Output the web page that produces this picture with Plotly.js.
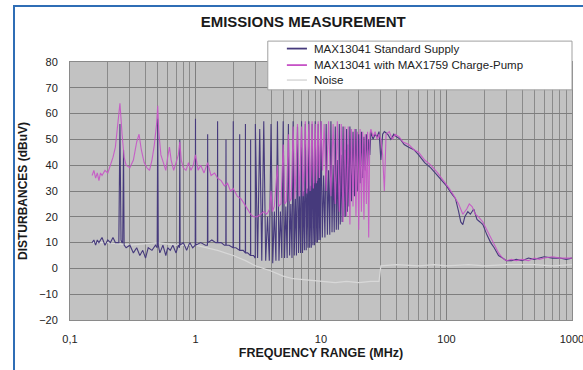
<!DOCTYPE html>
<html>
<head>
<meta charset="utf-8">
<script src="https://cdn.plot.ly/plotly-3.0.1.min.js"></script>
<style>
  html, body { margin: 0; padding: 0; background: #ffffff; }
  #wrap { position: relative; width: 583px; height: 370px; overflow: hidden; }
  #chart { position: absolute; left: 0; top: 0; width: 583px; height: 370px; }
  #frameTop { position: absolute; left: 14px; top: 5px; width: 569px; height: 0; border-top: 2px solid #2f6db5; }
  #frameLeft { position: absolute; left: 13px; top: 5px; width: 0; height: 365px; border-left: 2px solid #2f6db5; }
</style>
</head>
<body>
<div id="wrap">
  <div id="chart"></div>
  <div id="frameTop"></div>
  <div id="frameLeft"></div>
</div>
<script>
// ---- data ----
const seriesNames = ["MAX13041 Standard Supply", "MAX13041 with MAX1759 Charge-Pump", "Noise"];
const seriesColors = ["#463a7c", "#c653c6", "#d8d8d8"];

const stdFreq = [
  0.15,0.155,0.16,0.165,0.17,0.18,0.19,0.2,0.21,0.22,
  0.23,0.245,0.25,0.255,0.26,0.263,0.267,0.27,0.28,0.3,
  0.32,0.34,0.36,0.38,0.4,0.42,0.45,0.48,0.495,0.5,
  0.505,0.52,0.55,0.58,0.6,0.63,0.66,0.7,0.73,0.745,
  0.75,0.755,0.8,0.85,0.9,0.95,0.995,1.0,1.005,1.1,
  1.2,1.245,1.25,1.255,1.35,1.45,1.495,1.5,1.505,1.6,
  1.7,1.745,1.75,1.755,1.85,1.995,2.0,2.005,2.1,2.245,
  2.25,2.255,2.4,2.495,2.5,2.505,2.6,2.745,2.75,2.755,
  2.9,2.995,
  3.0,3.125,3.25,3.375,3.5,3.625,3.75,3.875,
  4.0,4.125,4.25,4.375,4.5,4.625,4.75,4.875,
  5.0,5.125,5.25,5.375,5.5,5.625,5.75,5.875,
  6.0,6.125,6.25,6.375,6.5,6.625,6.75,6.875,
  7.0,7.125,7.25,7.375,7.5,7.625,7.75,7.875,
  8.0,8.125,8.25,8.375,8.5,8.625,8.75,8.875,
  9.0,9.125,9.25,9.375,9.5,9.625,9.75,9.875,
  10,
  10.25,10.5,10.75,11,11.25,11.5,11.75,12,12.25,12.5,12.75,13,13.25,13.5,13.75,14,
  14.25,14.5,14.75,15,15.25,15.5,15.75,16,16.25,16.5,16.75,17,
  17.5,18,18.5,19,19.5,20,20.5,21,21.5,22,22.5,23,23.5,24,24.5,25,
  26,27,28,29,30,31,32,34,36,38,
  40,43,46,50,55,60,67,75,85,92,
  100,110,118,125,130,135,140,148,155,165,
  175,185,195,210,225,240,260,280,300,330,
  360,400,450,500,550,600,700,800,900,1000
];
const stdLevel = [
  10,11,9,11,10,12,9,11,10,12,
  10,10,56,11,10,10,46,9,8,9,
  6,8,5,7,4,8,7,9,8,58,
  9,6,9,5,8,7,9,6,9,8,
  50,9,10,7,10,8,9,58,9,10,
  9,9,52,10,11,10,10,57,10,10,
  9,9,50,9,9,8,57,8,8,7,
  52,7,7,6,56,6,6,5,50,5,
  5,4,
  56,4,54,3,57,3,20,3,
  56,2,22,3,57,3,22,4,
  57,4,24,4,56,5,25,4,
  57,5,27,5,55,6,28,6,
  57,6,30,7,56,7,31,8,
  57,8,32,8,56,9,33,9,
  57,10,34,10,56,11,35,11,
  57,
  12,36,12,56,13,38,13,57,14,40,14,55,15,42,15,56,
  17,44,18,55,20,46,20,54,22,48,24,55,
  26,53,28,54,30,52,33,53,35,51,38,52,40,50,44,53,
  50,52,51,53,42,52,53,52,50,52,
  51,50,48,47,46,44,41,39,36,34,
  32,29,27,22,18,17,20,22,21,23,
  19,18,17,13,10,8,5,4,3,3,
  3.5,3,4,3.5,4,4.5,4,4,3.5,4
];

const pumpFreq = [
  0.15,0.155,0.16,0.165,0.17,0.175,0.18,0.19,0.2,0.21,
  0.22,0.23,0.24,0.25,0.26,0.27,0.28,0.3,0.32,0.34,
  0.355,0.37,0.39,0.41,0.43,0.45,0.47,0.49,0.5,0.51,
  0.53,0.56,0.58,0.6,0.62,0.64,0.67,0.7,0.73,0.75,
  0.77,0.8,0.84,0.88,0.92,0.96,1.0,1.05,1.1,1.17,
  1.25,1.33,1.42,1.5,1.6,1.7,1.8,1.9,2.0,2.15,
  2.3,2.45,2.6,2.75,2.9,3.1,3.3,3.5,3.7,3.9,
  4.0,4.1,4.25,4.5,4.6,4.8,5.0,5.15,5.3,5.5,
  5.65,5.8,6.0,6.2,6.5,6.7,7.0,7.2,7.5,7.7,
  8.0,8.2,8.5,8.7,9.0,9.2,9.5,9.7,10,10.3,
  10.6,11,11.5,12,12.5,13,13.5,14,14.5,15,
  15.5,16,16.5,17,17.5,18,18.5,19,19.5,20,
  20.5,21,21.5,22,22.5,23,23.5,24,24.5,25,
  26,27,28,29,30,31,32,33,35,37,
  39,42,45,50,55,60,67,75,85,95,
  105,115,125,135,145,152,160,170,180,195,
  210,225,240,260,280,300,330,360,400,450,
  500,550,600,700,800,900,1000
];
const pumpLevel = [
  36,38,35,37,34,37,36,38,37,40,
  43,47,55,64,52,43,40,39,42,49,
  52,46,41,39,38,42,48,56,63,53,
  44,40,38,43,47,42,38,41,44,49,
  42,39,38,41,38,40,44,38,40,37,
  41,36,37,35,34,32,33,30,31,28,
  27,25,23,21,20,20,21,22,21,23,
  30,22,24,40,24,25,48,25,26,52,
  26,27,55,27,56,28,55,28,57,29,
  56,30,57,31,56,33,57,35,57,38,
  56,30,57,28,56,25,57,22,56,18,
  55,20,55,17,54,24,54,20,53,15,
  54,22,53,19,52,25,53,12,52,54,
  51,53,50,52,50,44,30,52,53,50,
  52,51,49,48,46,45,42,40,37,34,
  31,28,25,21,23,25,24,21,20,18,
  15,12,9,6,4,3,3.5,3,3.5,3,
  4,3.5,4,4.5,4,4,4
];

const noiseFreq = [0.15,0.2,0.3,0.5,0.7,1.0,1.5,2.0,2.5,3.0,4,5,6,8,10,13,16,20,25,29,30,40,60,80,100,150,200,300,500,700,1000];
const noiseLevel = [10,10,9,10,9,9,7,5,3,1,-1,-3,-4,-4.5,-5,-5.5,-5,-5.5,-5,-5,1,1.5,1,1.5,1,1.5,1,1.5,1.5,1,1.5];

const xTickVals = [0.1, 1, 10, 100, 1000];
const xTickText = ["0,1", "1", "10", "100", "1000"];
const xMinorVals = [0.2,0.3,0.4,0.5,0.6,0.7,0.8,0.9,2,3,4,5,6,7,8,9,20,30,40,50,60,70,80,90,200,300,400,500,600,700,800,900];
const yTickVals = [-20,-10,0,10,20,30,40,50,60,70,80];

// ---- drawing ----
const font = '"Liberation Sans", Arial, sans-serif';

const traces = [
  {
    x: noiseFreq, y: noiseLevel, name: seriesNames[2], type: 'scatter', mode: 'lines',
    line: { color: seriesColors[2], width: 1.2 }
  },
  {
    x: stdFreq, y: stdLevel, name: seriesNames[0], type: 'scatter', mode: 'lines',
    line: { color: seriesColors[0], width: 1.1 }
  },
  {
    x: pumpFreq, y: pumpLevel, name: seriesNames[1], type: 'scatter', mode: 'lines',
    line: { color: seriesColors[1], width: 1.1 }, opacity: 0.9
  }
];

// legend box drawn as shapes + annotations (paper coordinates)
const legX0 = 0.394, legX1 = 1.0, legY0 = 0.892, legY1 = 1.081;
const legRowY = [1.052, 0.988, 0.930];
const legLineX = [0.432, 0.472], legTextX = 0.482;
const legendOrder = [0, 1, 2];

const shapes = [
  { type: 'rect', xref: 'paper', yref: 'paper', x0: legX0, x1: legX1, y0: legY0, y1: legY1,
    fillcolor: '#ffffff', line: { color: '#a0a0a0', width: 1 }, layer: 'above' }
];
const annotations = [];
legendOrder.forEach((k, i) => {
  shapes.push({ type: 'line', xref: 'paper', yref: 'paper', x0: legLineX[0], x1: legLineX[1],
    y0: legRowY[i], y1: legRowY[i], line: { color: seriesColors[k], width: k === 2 ? 1.5 : 1.8 }, layer: 'above' });
  annotations.push({ xref: 'paper', yref: 'paper', x: legTextX, y: legRowY[i], xanchor: 'left', yanchor: 'middle',
    text: seriesNames[k], showarrow: false, font: { family: font, size: 11.5, color: '#222' } });
});

const layout = {
  width: 583, height: 370,
  margin: { l: 70, r: 11, t: 62, b: 50, pad: 0 },
  paper_bgcolor: '#ffffff',
  plot_bgcolor: '#c2c2c2',
  font: { family: font, size: 11, color: '#222222' },
  title: {
    text: '<b>EMISSIONS MEASUREMENT</b>',
    font: { family: font, size: 15, color: '#1a1a1a' },
    x: 0.52, xanchor: 'center', y: 0.94, yanchor: 'middle'
  },
  showlegend: false,
  shapes: shapes,
  annotations: annotations,
  xaxis: {
    type: 'log', range: [-1, 3.0003],
    tickvals: xTickVals, ticktext: xTickText,
    showgrid: true, gridcolor: '#7e7e7e', gridwidth: 1,
    minor: { tickvals: xMinorVals, showgrid: true, gridcolor: '#8a8a8a', gridwidth: 1, ticklen: 0 },
    ticks: '', ticklabelstandoff: 9, ticklabeloverflow: 'allow',
    showline: true, linecolor: '#8a8a8a', mirror: true, zeroline: false,
    tickfont: { family: font, size: 11, color: '#222' },
    title: { text: '<b>FREQUENCY RANGE (MHz)</b>', font: { family: font, size: 12.5, color: '#1a1a1a' }, standoff: 4 }
  },
  yaxis: {
    range: [-20, 80], tickvals: yTickVals,
    showgrid: true, gridcolor: '#7e7e7e', gridwidth: 1,
    ticks: '', ticklabelstandoff: 9,
    showline: true, linecolor: '#8a8a8a', mirror: true, zeroline: false,
    tickfont: { family: font, size: 11, color: '#222' },
    title: { text: '<b>DISTURBANCES (dBuV)</b>', font: { family: font, size: 12, color: '#1a1a1a' }, standoff: 8 }
  }
};

Plotly.newPlot('chart', traces, layout, { staticPlot: true, displayModeBar: false });
</script>
</body>
</html>
